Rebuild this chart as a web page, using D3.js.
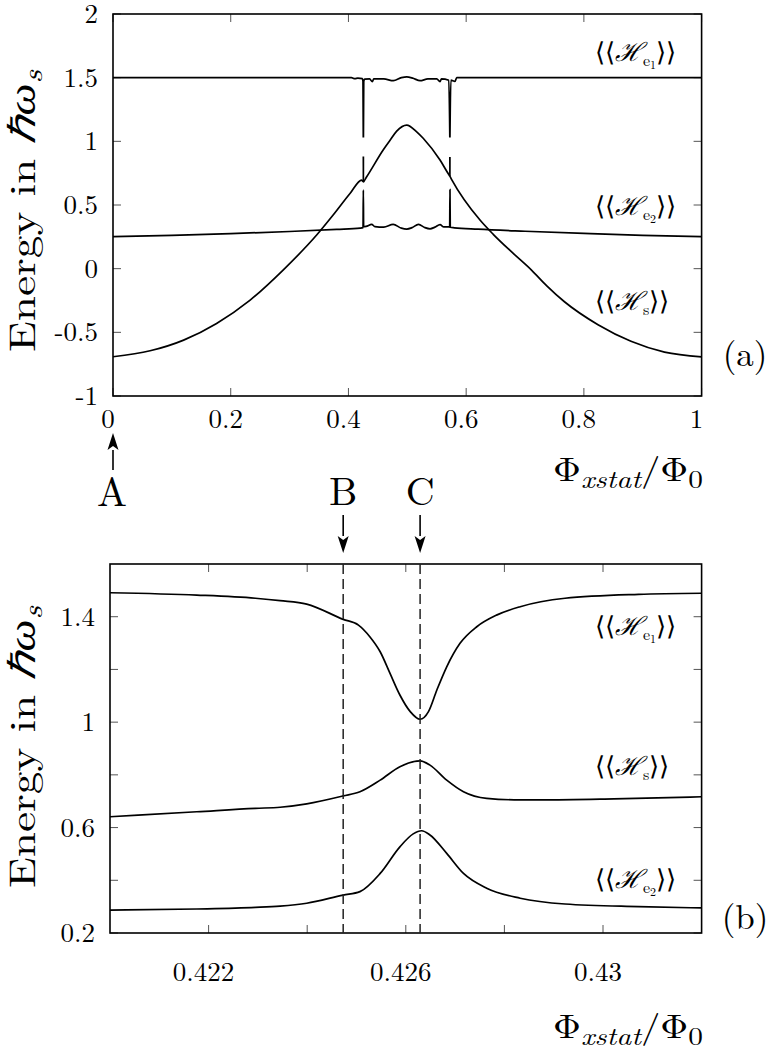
<!DOCTYPE html>
<html><head><meta charset="utf-8">
<script src="https://cdn.jsdelivr.net/npm/d3@7"></script>
<style>
body{margin:0;background:#fff}
</style>
</head><body>
<svg id="chart" width="771" height="1052"></svg>
<script>
// ---------- data ----------
const topXTicks = [0, 0.2, 0.4, 0.6, 0.8, 1];
const topXTickLabels = ["0", "0.2", "0.4", "0.6", "0.8", "1"];
const topYTicks = [-1, -0.5, 0, 0.5, 1, 1.5, 2];
const topYTickLabels = ["-1", "-0.5", "0", "0.5", "1", "1.5", "2"];

const botXTicks = [0.422, 0.424, 0.426, 0.428, 0.43];
const botXTickLabels = ["0.422", "", "0.426", "", "0.43"];
const botYTicks = [0.2, 0.4, 0.6, 0.8, 1.0, 1.2, 1.4];
const botYTickLabels = ["0.2", "", "0.6", "", "1", "", "1.4"];

// panel (a): [flux, energy]; null marks a break in the drawn line
const topE1 = [[0,1.5],[0.1,1.5],[0.2,1.5],[0.3,1.5],[0.4,1.5],[0.405,1.5],[0.411,1.492],[0.416,1.497],[0.4235,1.492],[0.4247,1.47],[0.42525,1.03],[0.42527,null],[0.4253,0.88],[0.42535,0.683],[0.4254,0.88],[0.42543,null],[0.42545,1.03],[0.426,1.47],[0.4275,1.488],[0.436,1.49],[0.4406,1.468],[0.443,1.49],[0.46,1.49],[0.4763,1.476],[0.49,1.5],[0.499,1.507],[0.51,1.495],[0.5216,1.476],[0.535,1.49],[0.55,1.49],[0.5556,1.468],[0.558,1.49],[0.5705,1.48],[0.57225,1.03],[0.57228,null],[0.5723,0.877],[0.57235,0.735],[0.5724,0.877],[0.57243,null],[0.57245,1.03],[0.574,1.48],[0.581,1.47],[0.584,1.5],[0.7,1.5],[1,1.5]];
const topE2 = [[0,0.251],[0.1,0.262],[0.2,0.275],[0.3,0.292],[0.38,0.308],[0.42,0.318],[0.4248,0.322],[0.4253,0.617],[0.4258,0.33],[0.43,0.332],[0.4395,0.348],[0.445,0.33],[0.46,0.326],[0.476,0.348],[0.49,0.318],[0.499,0.311],[0.508,0.322],[0.519,0.348],[0.53,0.322],[0.5386,0.313],[0.547,0.326],[0.5556,0.346],[0.562,0.328],[0.572,0.328],[0.5725,0.62],[0.573,0.325],[0.58,0.321],[0.62,0.31],[0.7,0.294],[0.8,0.277],[0.9,0.262],[1,0.252]];
const topHs = [[0,-0.692],[0.063,-0.645],[0.12,-0.561],[0.176,-0.43],[0.233,-0.247],[0.289,-0.011],[0.346,0.264],[0.374,0.421],[0.403,0.592],[0.4225,0.696],[0.4253,0.683],[0.431,0.722],[0.459,0.932],[0.471,1.01],[0.482,1.08],[0.499,1.128],[0.516,1.075],[0.527,1.024],[0.5556,0.853],[0.5697,0.745],[0.5725,0.725],[0.5754,0.7],[0.6235,0.382],[0.646,0.27],[0.68,0.12],[0.711,-0.011],[0.737,-0.135],[0.767,-0.26],[0.824,-0.44],[0.88,-0.57],[0.937,-0.655],[1,-0.692]];

// panel (b)
const botE1 = [[0.42,1.491],[0.42176,1.482],[0.42295,1.47],[0.42345,1.461],[0.42399,1.448],[0.42473,1.39],[0.42504,1.368],[0.42527,1.324],[0.42548,1.267],[0.42568,1.185],[0.42588,1.103],[0.42609,1.04],[0.42629,1.011],[0.42646,1.04],[0.42663,1.122],[0.42683,1.21],[0.4271,1.299],[0.42744,1.362],[0.42784,1.406],[0.42832,1.438],[0.42923,1.47],[0.43072,1.485],[0.432,1.489]];
const botHs = [[0.42,0.641],[0.42176,0.66],[0.42295,0.673],[0.42345,0.677],[0.42399,0.69],[0.42473,0.72],[0.42507,0.736],[0.42548,0.78],[0.42588,0.831],[0.42629,0.853],[0.42649,0.837],[0.42683,0.78],[0.42717,0.736],[0.42764,0.711],[0.42832,0.705],[0.42873,0.705],[0.43022,0.709],[0.432,0.717]];
const botE2 = [[0.42,0.287],[0.42176,0.291],[0.42295,0.297],[0.42345,0.302],[0.42399,0.313],[0.42473,0.344],[0.42507,0.357],[0.42548,0.426],[0.42588,0.527],[0.42615,0.576],[0.42632,0.588],[0.42649,0.572],[0.42683,0.502],[0.42717,0.426],[0.42764,0.37],[0.42832,0.332],[0.42923,0.31],[0.43072,0.3],[0.432,0.295]];

const markerA = 0;        // panel (a) flux
const markerB = 0.42473;  // panel (b) flux
const markerC = 0.42629;  // panel (b) flux

// ---------- drawing ----------
const FONT = "Latin Modern Roman";
const svg = d3.select("#chart");

function txt(parent, x, y, size) {
  return parent.append("text").attr("x", x).attr("y", y).attr("font-size", size)
    .style("font-family", FONT).attr("fill", "#000");
}

function panel(cfg) {
  const g = svg.append("g");
  const x = cfg.x, y = cfg.y;
  const [x0, x1] = x.range(), [yb, yt] = y.range();
  const tl = 8;
  cfg.xTicks.forEach(v => {
    g.append("line").attr("x1", x(v)).attr("x2", x(v)).attr("y1", yb).attr("y2", yb - tl).attr("stroke", "#555").attr("stroke-width", 1);
    g.append("line").attr("x1", x(v)).attr("x2", x(v)).attr("y1", yt).attr("y2", yt + tl).attr("stroke", "#555").attr("stroke-width", 1);
  });
  cfg.yTicks.forEach(v => {
    g.append("line").attr("x1", x0).attr("x2", x0 + tl).attr("y1", y(v)).attr("y2", y(v)).attr("stroke", "#555").attr("stroke-width", 1);
    g.append("line").attr("x1", x1).attr("x2", x1 - tl).attr("y1", y(v)).attr("y2", y(v)).attr("stroke", "#555").attr("stroke-width", 1);
  });
  cfg.xTicks.forEach((v, i) => {
    if (!cfg.xLabels[i]) return;
    txt(g, x(v) - 5, yb + cfg.xLabelDy, 27).attr("text-anchor", "middle").text(cfg.xLabels[i]);
  });
  cfg.yTicks.forEach((v, i) => {
    if (!cfg.yLabels[i]) return;
    txt(g, x0 - 15, y(v) + 9, 27).attr("text-anchor", "end").text(cfg.yLabels[i]);
  });
  const line = d3.line().defined(d => d[1] != null).x(d => x(d[0])).y(d => y(d[1])).curve(d3.curveMonotoneX);
  cfg.series.forEach(s => {
    g.append("path").attr("d", line(s)).attr("fill", "none").attr("stroke", "#000").attr("stroke-width", 1.7);
  });
  g.append("rect").attr("x", x0).attr("y", yt).attr("width", x1 - x0).attr("height", yb - yt)
    .attr("fill", "none").attr("stroke", "#000").attr("stroke-width", 1.6);
  // y title
  const yt_ = g.append("text").attr("transform", `translate(${cfg.yTitleX},${cfg.yTitleY}) rotate(-90)`)
    .style("font-family", FONT).attr("font-size", 37).attr("textLength", 282).attr("lengthAdjust", "spacingAndGlyphs");
  yt_.append("tspan").text("Energy in ");
  yt_.append("tspan").attr("font-style", "italic").text("ℏω");
  yt_.append("tspan").attr("font-style", "italic").attr("font-size", 27).attr("dy", 7).text("s");
  // x title
  const xt = txt(g, 553, cfg.xTitleY, 33).attr("textLength", 150).attr("lengthAdjust", "spacingAndGlyphs");
  xt.append("tspan").text("Φ");
  xt.append("tspan").attr("font-style", "italic").attr("font-size", 25).attr("dy", 7).text("xstat");
  xt.append("tspan").attr("dy", -7).text("/Φ");
  xt.append("tspan").attr("font-size", 25).attr("dy", 7).text("0");
  // panel letter
  txt(g, 745, cfg.letterY, 35).attr("text-anchor", "middle").text(cfg.letter);
  // series labels
  cfg.labels.forEach(l => {
    const t = txt(g, 595, l.y + 8, 26);
    t.append("tspan").text("⟨⟨");
    t.append("tspan").attr("font-style", "italic").text("ℋ");
    t.append("tspan").attr("font-size", 16).attr("dy", 5).text(l.sub);
    if (l.subsub) t.append("tspan").attr("font-size", 12).attr("dy", 3).text(l.subsub);
    t.append("tspan").attr("dy", l.subsub ? -8 : -5).text("⟩⟩");
  });
  return g;
}

const xTop = d3.scaleLinear().domain([0, 1]).range([113, 701.6]);
const yTop = d3.scaleLinear().domain([-1, 2]).range([396, 14]);
const xBot = d3.scaleLinear().domain([0.42, 0.432]).range([110, 701.6]);
const yBot = d3.scaleLinear().domain([0.2, 1.6]).range([933, 564]);

panel({
  x: xTop, y: yTop, xTicks: topXTicks, xLabels: topXTickLabels, yTicks: topYTicks, yLabels: topYTickLabels,
  xLabelDy: 32, series: [topE1, topE2, topHs], yTitleX: 35, yTitleY: 352, xTitleY: 481, letter: "(a)", letterY: 366,
  labels: [{y: 53, sub: "e", subsub: "1"}, {y: 207, sub: "e", subsub: "2"}, {y: 302, sub: "s"}]
});
const gb = panel({
  x: xBot, y: yBot, xTicks: botXTicks, xLabels: botXTickLabels, yTicks: botYTicks, yLabels: botYTickLabels,
  xLabelDy: 48, series: [botE1, botHs, botE2], yTitleX: 35, yTitleY: 888, xTitleY: 1038, letter: "(b)", letterY: 929,
  labels: [{y: 627, sub: "e", subsub: "1"}, {y: 767, sub: "s"}, {y: 880, sub: "e", subsub: "2"}]
});

[markerB, markerC].forEach(v => {
  gb.append("line").attr("x1", xBot(v)).attr("x2", xBot(v)).attr("y1", yBot.range()[1]).attr("y2", yBot.range()[0])
    .attr("stroke", "#222").attr("stroke-width", 1.5).attr("stroke-dasharray", "10,5");
});

function arrow(xp, yFrom, yTip) {
  const dir = Math.sign(yTip - yFrom);
  const hl = 17, hw = 5.5;
  svg.append("line").attr("x1", xp).attr("x2", xp).attr("y1", yFrom).attr("y2", yTip - dir * hl)
    .attr("stroke", "#000").attr("stroke-width", 1.6);
  svg.append("path").attr("d", `M${xp},${yTip} L${xp - hw},${yTip - dir * hl} L${xp},${yTip - dir * (hl - 4)} L${xp + hw},${yTip - dir * hl} Z`).attr("fill", "#000");
}
arrow(xTop(markerA), 470, 433);
arrow(xBot(markerB), 515, 553);
arrow(xBot(markerC), 515, 553);
txt(svg, xTop(markerA) - 1, 506, 40).attr("text-anchor", "middle").text("A");
txt(svg, xBot(markerB), 505, 40).attr("text-anchor", "middle").text("B");
txt(svg, xBot(markerC), 505, 40).attr("text-anchor", "middle").text("C");
</script>
</body></html>
